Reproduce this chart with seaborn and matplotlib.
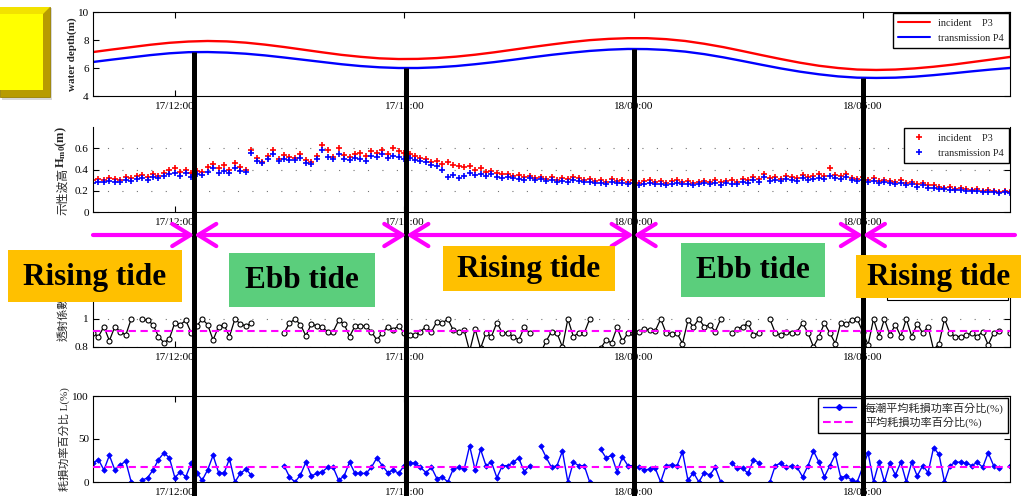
import numpy as np
import pandas as pd
import matplotlib
matplotlib.use("Agg")
import matplotlib.pyplot as plt
import matplotlib.transforms as mtrans
from matplotlib.patches import Rectangle, FancyArrowPatch, Polygon
from matplotlib.lines import Line2D
import seaborn as sns

nan = float("nan")

# ---------------- data ----------------
t_start = 9.85            # hours after 17/00:00
depth_step = 0.5          # h
wave_step = 1.0 / 7.0     # h
x_limits = [9.85, 33.85]

depth_p3 = [7.14, 7.32, 7.49, 7.66, 7.80, 7.89, 7.93, 7.90, 7.81, 7.67, 7.50, 7.31, 7.12,
            6.94, 6.80, 6.69, 6.64, 6.65, 6.71, 6.81, 6.95, 7.12, 7.31, 7.50, 7.68, 7.85,
            7.99, 8.08, 8.13, 8.13, 8.06, 7.93, 7.73, 7.49, 7.21, 6.92, 6.64, 6.38, 6.16,
            6.00, 5.89, 5.86, 5.89, 5.97, 6.09, 6.24, 6.42, 6.60, 6.79]
depth_p4 = [6.43, 6.60, 6.76, 6.92, 7.05, 7.13, 7.14, 7.10, 7.02, 6.90, 6.75, 6.59, 6.43,
            6.27, 6.14, 6.05, 6.00, 6.00, 6.05, 6.14, 6.27, 6.42, 6.59, 6.77, 6.94, 7.09,
            7.22, 7.31, 7.36, 7.35, 7.29, 7.17, 6.99, 6.76, 6.50, 6.23, 5.97, 5.74, 5.55,
            5.40, 5.31, 5.29, 5.31, 5.38, 5.49, 5.62, 5.76, 5.89, 6.00]

hm0_p3 = [0.30, 0.31, 0.30, 0.32, 0.31, 0.30, 0.33,
          0.32, 0.34, 0.35, 0.33, 0.36, 0.34, 0.37,
          0.40, 0.41, 0.38, 0.40, 0.37, 0.39, 0.38,
          0.42, 0.45, 0.41, 0.44, 0.40, 0.46, 0.42,
          0.40, 0.58, 0.51, 0.47, 0.53, 0.58, 0.50,
          0.54, 0.52, 0.51, 0.55, 0.49, 0.47, 0.53,
          0.63, 0.58, 0.52, 0.60, 0.54, 0.52, 0.55,
          0.56, 0.53, 0.57, 0.56, 0.58, 0.55, 0.60,
          0.57, 0.56, 0.55, 0.53, 0.51, 0.50, 0.47,
          0.48, 0.45, 0.47, 0.44, 0.43, 0.42, 0.43,
          0.40, 0.41, 0.38, 0.39, 0.37, 0.36, 0.36,
          0.34, 0.35, 0.33, 0.34, 0.32, 0.33, 0.31,
          0.33, 0.30, 0.32, 0.31, 0.33, 0.32, 0.30,
          0.31, 0.29, 0.30, 0.28, 0.31, 0.29, 0.30,
          0.28, 0.30, 0.27, 0.29, 0.30, 0.28, 0.29,
          0.27, 0.29, 0.30, 0.28, 0.29, 0.27, 0.28,
          0.29, 0.28, 0.30, 0.28, 0.29, 0.30, 0.28,
          0.31, 0.30, 0.33, 0.31, 0.36, 0.32, 0.33,
          0.31, 0.34, 0.33, 0.32, 0.35, 0.33, 0.34,
          0.36, 0.34, 0.41, 0.35, 0.34, 0.36, 0.32,
          0.31, 0.33, 0.30, 0.32, 0.29, 0.30, 0.29,
          0.28, 0.30, 0.27, 0.28, 0.26, 0.27, 0.25,
          0.25, 0.24, 0.23, 0.24, 0.22, 0.23, 0.22,
          0.21, 0.22, 0.20, 0.21, 0.20, 0.19, 0.20,
          0.19]
hm0_p4 = [0.27, 0.28, 0.28, 0.29, 0.28, 0.28, 0.30,
          0.29, 0.31, 0.32, 0.30, 0.33, 0.32, 0.34,
          0.36, 0.37, 0.34, 0.37, 0.33, 0.36, 0.35,
          0.38, 0.41, 0.37, 0.39, 0.37, 0.41, 0.39,
          0.38, 0.56, 0.48, 0.46, 0.50, 0.55, 0.48,
          0.50, 0.49, 0.49, 0.51, 0.46, 0.45, 0.50,
          0.58, 0.52, 0.50, 0.55, 0.50, 0.49, 0.51,
          0.50, 0.48, 0.53, 0.52, 0.55, 0.51, 0.53,
          0.52, 0.50, 0.51, 0.49, 0.48, 0.47, 0.44,
          0.43, 0.40, 0.33, 0.35, 0.32, 0.34, 0.37,
          0.35, 0.36, 0.34, 0.36, 0.33, 0.32, 0.33,
          0.32, 0.31, 0.30, 0.32, 0.30, 0.31, 0.29,
          0.30, 0.28, 0.29, 0.28, 0.30, 0.29, 0.28,
          0.28, 0.27, 0.27, 0.26, 0.28, 0.27, 0.27,
          0.26, 0.27, 0.25, 0.26, 0.27, 0.26, 0.26,
          0.25, 0.26, 0.27, 0.26, 0.26, 0.25, 0.26,
          0.27, 0.26, 0.27, 0.25, 0.27, 0.26, 0.26,
          0.28, 0.27, 0.30, 0.28, 0.33, 0.29, 0.30,
          0.29, 0.31, 0.30, 0.29, 0.32, 0.30, 0.31,
          0.32, 0.31, 0.34, 0.32, 0.31, 0.33, 0.30,
          0.29, 0.30, 0.28, 0.29, 0.27, 0.28, 0.27,
          0.26, 0.27, 0.25, 0.26, 0.24, 0.25, 0.23,
          0.23, 0.22, 0.22, 0.21, 0.21, 0.21, 0.20,
          0.20, 0.20, 0.19, 0.19, 0.19, 0.18, 0.19,
          0.18]

kt = [0.90, 0.875, 0.945, 0.845, 0.945, 0.91, 0.885,
      1.00, nan, 1.00, 0.99, 0.96, 0.875, 0.83,
      0.86, 0.975, 0.96, 0.99, 0.90, 0.95, 1.00,
      0.96, 0.85, 0.945, 0.96, 0.875, 1.00, 0.965,
      0.95, 0.97, nan, nan, nan, nan, nan,
      0.90, 0.97, 1.00, 0.96, 0.88, 0.965, 0.95,
      0.94, 0.91, 0.91, 0.99, 0.965, 0.875, 0.95,
      0.95, 0.95, 0.91, 0.85, 0.90, 0.945, 0.925,
      0.95, 0.90, 0.885, 0.885, 0.91, 0.945, 0.91,
      0.98, 0.97, 1.00, 0.92, 0.91, 0.92, 0.77,
      0.93, 0.79, 0.90, 0.875, 0.975, 0.90, 0.90,
      0.875, 0.85, 0.94, 0.90, nan, 0.76, 0.84,
      0.91, 0.90, 0.80, 1.00, 0.875, 0.90, 0.90,
      1.00, nan, 0.79, 0.85, 0.83, 0.94, 0.84,
      0.90, 0.90, 0.91, 0.93, 0.92, 0.915, 1.00,
      0.90, 0.895, 0.90, 0.825, 0.99, 0.945, 1.00,
      0.945, 0.96, 0.91, 1.00, nan, 0.90, 0.93,
      0.945, 0.97, 0.885, 0.90, nan, 1.00, 0.90,
      0.885, 0.91, 0.90, 0.91, 0.97, 0.90, 0.80,
      0.875, 0.97, 0.90, 0.825, 0.975, 0.965, 0.99,
      1.00, 0.91, 0.815, 1.00, 0.875, 1.00, 0.885,
      0.96, 0.875, 1.00, 0.875, 0.965, 0.90, 0.945,
      0.78, 0.825, 1.00, 0.90, 0.875, 0.875, 0.885,
      0.90, 0.875, 0.91, 0.815, 0.90, 0.915, nan,
      0.90]
loss = [22, 26, 14, 31, 14, 20, 24,
        0, nan, 2, 5, 14, 26, 34,
        28, 5, 12, 6, 22, 11, 2,
        14, 31, 11, 10, 27, 0, 10,
        15, 8, nan, nan, nan, nan, nan,
        19, 6, 0, 8, 23, 7, 10,
        12, 17, 17, 2, 7, 23, 10,
        10, 10, 17, 28, 19, 11, 14,
        10, 19, 22, 22, 17, 11, 17,
        4, 6, 0, 15, 17, 15, 42,
        14, 38, 19, 23, 5, 19, 19,
        23, 28, 12, 19, nan, 42, 29,
        17, 19, 36, 0, 23, 19, 19,
        0, nan, 38, 28, 31, 12, 29,
        19, 19, 17, 14, 15, 16, 0,
        19, 20, 19, 35, 2, 11, 0,
        11, 8, 17, 0, nan, 22, 16,
        16, 10, 26, 22, nan, 0, 19,
        22, 17, 19, 17, 6, 19, 36,
        23, 6, 19, 32, 5, 7, 2,
        0, 17, 34, 0, 23, 0, 22,
        8, 23, 0, 23, 7, 19, 11,
        40, 32, 0, 19, 23, 23, 22,
        19, 23, 17, 34, 19, 16, nan,
        19]
kt_mean = 0.914
loss_mean = 17.4

xtick_hours = [12, 18, 24, 30]
xtick_labels = ["17/12:00", "17/18:00", "18/00:00", "18/06:00"]
turn_hours = [12.5, 18.05, 24.0, 30.0]
turn_depth = [7.14, 6.00, 7.36, 5.29]
tide_labels = ["Rising tide", "Ebb tide", "Rising tide", "Ebb tide", "Rising tide"]
tide_kind = ["rise", "ebb", "rise", "ebb", "rise"]

# ---------------- style ----------------
sns.set_theme(style="white")
plt.rcParams["font.family"] = ["Liberation Serif", "Noto Sans CJK TC", "DejaVu Sans"]
plt.rcParams["mathtext.fontset"] = "custom"
plt.rcParams["mathtext.rm"] = "Liberation Serif"
plt.rcParams["mathtext.bf"] = "Liberation Serif:bold"
plt.rcParams["mathtext.it"] = "Liberation Serif:italic"
plt.rcParams["axes.edgecolor"] = "black"
plt.rcParams["axes.linewidth"] = 0.8
plt.rcParams["axes.unicode_minus"] = False

W, H = 1026, 496
fig = plt.figure(figsize=(W / 100, H / 100), dpi=100)
fig.patch.set_facecolor("white")


def fx(x):
    return x / W


def fy(y):
    return 1 - y / H


def add_ax(top, bottom, left=93, right=1010):
    return fig.add_axes([fx(left), fy(bottom), fx(right) - fx(left), (bottom - top) / H])


ax1 = add_ax(12, 96)
ax2 = add_ax(127, 212)
ax3 = add_ax(291, 347)
ax4 = add_ax(396, 482)

# ---------------- frames ----------------
t_depth = t_start + depth_step * np.arange(len(depth_p3))
t_wave = t_start + wave_step * np.arange(len(hm0_p3))

df_depth = pd.DataFrame({"t": t_depth, "p3": depth_p3, "p4": depth_p4})
df_wave = pd.DataFrame({"t": t_wave, "p3": hm0_p3, "p4": hm0_p4})


def segmented(values):
    v = np.asarray(values, dtype=float)
    seg = np.cumsum(np.isnan(v))
    d = pd.DataFrame({"t": t_wave, "v": v, "seg": seg})
    return d.dropna()


df_kt = segmented(kt)
df_loss = segmented(loss)

# ---------------- panel 1 ----------------
sns.lineplot(data=df_depth, x="t", y="p3", ax=ax1, color="#FF0000", lw=1.7)
sns.lineplot(data=df_depth, x="t", y="p4", ax=ax1, color="#0000FF", lw=1.7)
ax1.set_ylim(4, 10)
ax1.set_yticks([4, 6, 8, 10])
ax1.set_yticklabels(["4", "6", "8", "10"])
ax1.set_ylabel("water depth(m)", fontsize=8, fontweight="bold")
ax1.legend(handles=[Line2D([], [], color="#FF0000", lw=1.5), Line2D([], [], color="#0000FF", lw=1.5)],
           labels=["incident    P3", "transmission P4"], loc="upper right", fontsize=7.5,
           frameon=True, fancybox=False, edgecolor="black", framealpha=1, borderaxespad=0.1,
           handlelength=3.0, labelspacing=0.6, borderpad=0.5)

# ---------------- panel 2 ----------------
sns.scatterplot(data=df_wave, x="t", y="p3", ax=ax2, marker="+", color="#FF0000", s=18, linewidth=1.2)
sns.scatterplot(data=df_wave, x="t", y="p4", ax=ax2, marker="+", color="#0000FF", s=18, linewidth=1.2)
ax2.set_ylim(0, 0.8)
ax2.set_yticks([0, 0.2, 0.4, 0.6])
ax2.set_yticklabels(["0", "0.2", "0.4", "0.6"])
ax2.set_ylabel("")
ax2.text(-0.026, 0.24, "示性波高", transform=ax2.transAxes, rotation=90, ha="right", va="center",
         fontsize=8.5, family=["Noto Sans CJK TC"])
ax2.text(-0.026, 0.76, "$\\mathbf{H_{m0}(m)}$", transform=ax2.transAxes, rotation=90, ha="right",
         va="center", fontsize=9)
ax2.spines["top"].set_visible(False)
ax2.yaxis.grid(True, linestyle=(0, (1, 12)), color="0.45", lw=0.8)
ax2.legend(handles=[Line2D([], [], color="#FF0000", marker="+", ls="none", ms=5, mew=1.2),
                    Line2D([], [], color="#0000FF", marker="+", ls="none", ms=5, mew=1.2)],
           labels=["incident    P3", "transmission P4"], loc="upper right", fontsize=7.5,
           frameon=True, fancybox=False, edgecolor="black", framealpha=1, borderaxespad=0.1,
           handlelength=2.0, labelspacing=0.6, borderpad=0.5)

# ---------------- panel 3 ----------------
sns.lineplot(data=df_kt, x="t", y="v", units="seg", estimator=None, ax=ax3, color="black", lw=0.9,
             marker="o", markersize=3.6, markerfacecolor="white", markeredgecolor="black",
             markeredgewidth=0.8)
ax3.axhline(kt_mean, color="#FF00FF", ls=(0, (3.5, 2.2)), lw=1.5, zorder=3)
ax3.set_ylim(0.8, 1.2)
ax3.set_yticks([0.8, 1.0])
ax3.set_yticklabels(["0.8", "1"])
ax3.set_ylabel("透射係數", fontsize=8)
ax3.spines["top"].set_visible(False)
ax3.yaxis.grid(True, linestyle=(0, (1, 12)), color="0.45", lw=0.8)
# frame of the (mostly hidden) legend of this panel; only its lower edge shows below the label box
ax3.add_patch(Rectangle((0.866, 0.84), 0.132, 0.5, transform=ax3.transAxes, facecolor="white",
                        edgecolor="black", lw=0.8, clip_on=False, zorder=4))

# ---------------- panel 4 ----------------
sns.lineplot(data=df_loss, x="t", y="v", units="seg", estimator=None, ax=ax4, color="#0000FF", lw=1.0,
             marker="D", markersize=2.8, markerfacecolor="#0000FF", markeredgecolor="#0000FF",
             markeredgewidth=0.5)
ax4.axhline(loss_mean, color="#FF00FF", ls=(0, (3.5, 2.2)), lw=1.5, zorder=3)
ax4.set_ylim(0, 100)
ax4.set_yticks([0, 50, 100])
ax4.set_yticklabels(["0", "50", "100"])
ax4.set_ylabel("耗損功率百分比 L(%)", fontsize=8)
ax4.legend(handles=[Line2D([], [], color="#0000FF", marker="D", ms=3.0, lw=1.0),
                    Line2D([], [], color="#FF00FF", ls="--", lw=1.5)],
           labels=["每潮平均耗損功率百分比(%)", "平均耗損功率百分比(%)"], loc="upper right",
           fontsize=8, frameon=True, fancybox=False, edgecolor="black", framealpha=1,
           borderaxespad=0.15, handlelength=3.0, labelspacing=0.3, borderpad=0.4)

# ---------------- common axis styling ----------------
label_x = {ax1: -0.017, ax2: -0.025, ax3: -0.027, ax4: -0.025}
for ax in (ax1, ax2, ax3, ax4):
    ax.set_xlim(*x_limits)
    ax.set_xticks(xtick_hours)
    ax.set_xticklabels(xtick_labels)
    ax.set_xlabel("")
    ax.tick_params(axis="both", direction="in", length=4, width=0.8, labelsize=8,
                   colors="black", right=True, left=True, bottom=True, top=(ax in (ax1, ax4)), pad=3)
    ax.tick_params(axis="x", pad=4)
    ax.yaxis.set_label_coords(label_x[ax], 0.5)
    ax.set_facecolor("white")
    for s in ax.spines.values():
        s.set_color("black")
        s.set_linewidth(0.8)

# ---------------- overlays ----------------
blend = mtrans.blended_transform_factory(ax1.transData, fig.transFigure)
inv = fig.transFigure.inverted()
for h, d in zip(turn_hours, turn_depth):
    top = inv.transform(ax1.transData.transform((h, d)))[1]
    fig.add_artist(Line2D([h, h], [0, top], transform=blend, color="black", lw=3.6,
                          solid_capstyle="butt", zorder=2))

y_arrow = fy(235)
bounds = [x_limits[0]] + turn_hours + [x_limits[1] + 0.13]
for k in range(len(bounds) - 1):
    if k == 0:
        style = "->"
    elif k == len(bounds) - 2:
        style = "<-"
    else:
        style = "<->"
    arr = FancyArrowPatch((bounds[k], y_arrow), (bounds[k + 1], y_arrow), transform=blend,
                          arrowstyle=style + ",head_length=1.3,head_width=0.8", mutation_scale=10,
                          color="#FF00FF", lw=3.0, shrinkA=0, shrinkB=0, zorder=3)
    fig.add_artist(arr)

box_geom = [(8, 250, 182, 302), (229, 253, 375, 307), (443, 246, 615, 291),
            (681, 243, 825, 297), (856, 255, 1021, 298)]
box_color = {"rise": "#FFC000", "ebb": "#5BCE7C"}
for (x0, y0, x1, y1), lab, kind in zip(box_geom, tide_labels, tide_kind):
    fig.add_artist(Rectangle((fx(x0), fy(y1)), fx(x1) - fx(x0), (y1 - y0) / H,
                             transform=fig.transFigure, facecolor=box_color[kind],
                             edgecolor="none", zorder=5))
    fig.text(fx((x0 + x1) / 2), fy((y0 + y1) / 2 + 1), lab, ha="center", va="center",
             fontsize=22.5, fontweight="bold", family="Liberation Serif", color="black", zorder=6)

# yellow bevelled button at the top left
fig.add_artist(Rectangle((fx(2), fy(100)), fx(52) - fx(2), 92 / H, transform=fig.transFigure,
                         facecolor="#D8D8D8", edgecolor="none", zorder=4))
fig.add_artist(Rectangle((fx(0), fy(97)), fx(50), 90 / H, transform=fig.transFigure,
                         facecolor="#B89C00", edgecolor="#9A8200", lw=0.6, zorder=5))
fig.add_artist(Polygon([(fx(0), fy(7)), (fx(50), fy(7)), (fx(43), fy(14)), (fx(0), fy(14))],
                       closed=True, transform=fig.transFigure, facecolor="#F2E200",
                       edgecolor="none", zorder=5.5))
fig.add_artist(Rectangle((fx(0), fy(90)), fx(43), 76 / H, transform=fig.transFigure,
                         facecolor="#FFFF00", edgecolor="none", zorder=6))

fig.savefig("out.png", dpi=100, facecolor="white")
